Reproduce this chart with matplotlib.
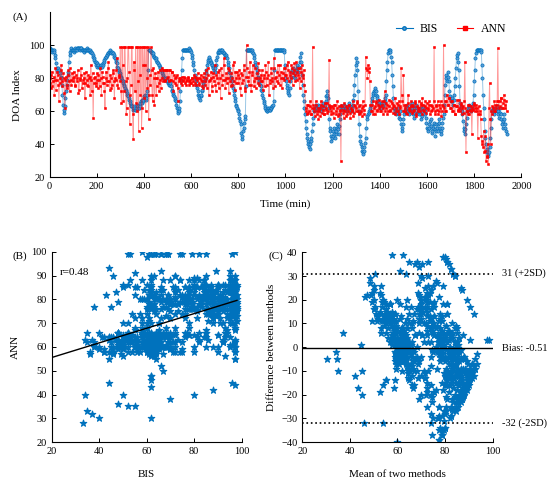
import matplotlib
matplotlib.use('Agg')
import matplotlib.pyplot as plt
import numpy as np

plt.rcParams['font.family'] = ['Liberation Serif', 'DejaVu Serif']
plt.rcParams['font.size'] = 8

# data: readings at 0, 5, 10 ... min
bis = [
    97, 97, 97, 97, 96, 92, 86, 84, 85, 83, 80, 70, 59, 63, 72, 79, 84, 94, 97, 97,
    97, 97, 97, 98, 98, 98, 98, 98, 97, 97, 97, 97, 97, 97, 97, 96, 95, 93, 91, 90,
    89, 88, 87, 87, 88, 88, 90, 92, 93, 94, 95, 96, 96, 96, 95, 93, 91, 89, 86, 84,
    82, 80, 78, 76, 74, 72, 70, 68, 66, 64, 63, 62, 62, 61, 62, 63, 62, 65, 67, 66,
    68, 70, 68, 72, 97, 97, 96, 95, 95, 93, 92, 90, 89, 88, 86, 84, 82, 80, 79, 80,
    78, 77, 76, 75, 72, 70, 68, 66, 62, 59, 62, 72, 85, 97, 97, 97, 97, 97, 97, 97,
    96, 92, 88, 82, 78, 74, 70, 68, 69, 72, 75, 78, 80, 85, 90, 92, 91, 89, 88, 86,
    84, 88, 93, 96, 96, 97, 96, 96, 95, 94, 93, 90, 86, 83, 80, 76, 72, 68, 64, 62,
    60, 56, 52, 43, 48, 53, 57, 97, 97, 97, 97, 97, 96, 94, 90, 87, 83, 80, 77, 75,
    72, 68, 65, 62, 60, 61, 62, 61, 62, 63, 66, 97, 97, 97, 97, 97, 97, 97, 97, 96,
    80, 76, 72, 70, 78, 84, 86, 83, 80, 85, 88, 84, 90, 95, 82, 70, 62, 54, 46, 42,
    38, 40, 44, 52, 60, 62, 63, 61, 64, 62, 60, 63, 65, 62, 66, 72, 68, 55, 48, 42,
    45, 50, 44, 48, 52, 46, 55, 62, 63, 61, 64, 62, 60, 63, 65, 62, 60, 64, 70, 82,
    92, 85, 60, 45, 40, 36, 34, 38, 44, 55, 58, 60, 62, 66, 70, 72, 74, 70, 68, 65,
    63, 62, 65, 64, 66, 70, 85, 95, 97, 96, 90, 75, 62, 60, 58, 62, 56, 60, 52, 48,
    55, 60, 62, 64, 60, 58, 62, 65, 60, 56, 62, 64, 60, 58, 62, 55, 60, 63, 60, 56,
    50, 48, 52, 55, 47, 50, 53, 45, 52, 48, 55, 50, 46, 53, 58, 70, 82, 78, 84, 72,
    66, 68, 64, 70, 80, 92, 95, 85, 65, 62, 58, 50, 46, 52, 60, 62, 64, 60, 62, 65,
    78, 92, 97, 97, 97, 97, 96, 80, 62, 48, 40, 35, 33, 38, 50, 60, 62, 58, 61, 63,
    60, 56, 62, 55, 50, 58, 52, 48,
]
ann = [
    80, 74, 84, 78, 70, 86, 79, 82, 66, 77, 88, 75, 80, 62, 81, 76, 85, 72, 79, 83,
    78, 81, 76, 80, 85, 73, 79, 82, 77, 80, 68, 84, 79, 75, 81, 88, 72, 56, 80, 77,
    83, 74, 79, 86, 70, 81, 77, 62, 84, 78, 90, 73, 80, 76, 85, 68, 79, 92, 74, 81,
    99, 65, 88, 72, 99, 58, 80, 99, 52, 76, 99, 43, 85, 99, 60, 78, 99, 70, 50, 99,
    68, 88, 99, 74, 55, 82, 99, 70, 86, 64, 80, 75, 84, 72, 79, 86, 78, 85, 78, 85,
    85, 78, 85, 79, 84, 72, 80, 76, 82, 66, 78, 80, 76, 79, 81, 77, 78, 80, 76, 79,
    77, 80, 78, 81, 76, 79, 80, 77, 82, 78, 74, 83, 76, 80, 86, 70, 79, 84, 75, 81,
    88, 72, 80, 77, 85, 68, 82, 79, 92, 74, 80, 86, 71, 78, 83, 76, 90, 73, 80, 84,
    77, 85, 70, 82, 79, 88, 74, 100, 81, 76, 90, 72, 84, 78, 86, 74, 80, 89, 76, 82,
    85, 73, 80, 88, 76, 82, 70, 79, 86, 78, 92, 75, 81, 84, 77, 88, 80, 74, 83, 79,
    86, 80, 90, 78, 84, 88, 76, 85, 82, 90, 79, 86, 74, 84, 88, 80, 76, 62, 58, 64,
    60, 66, 58, 99, 62, 57, 64, 60, 55, 62, 66, 59, 63, 58, 61, 65, 60, 91, 63, 58,
    62, 56, 64, 60, 66, 58, 61, 30, 63, 59, 65, 57, 62, 60, 64, 56, 61, 66, 59, 63,
    62, 66, 58, 64, 60, 57, 63, 61, 93, 85, 88, 86, 64, 60, 66, 62, 58, 65, 61, 67,
    63, 60, 66, 58, 72, 62, 64, 60, 67, 61, 65, 59, 63, 68, 60, 64, 58, 62, 86, 66,
    82, 60, 64, 58, 70, 62, 66, 59, 63, 61, 65, 57, 62, 66, 60, 64, 68, 61, 63, 59,
    65, 61, 66, 60, 63, 62, 99, 58, 64, 66, 60, 62, 57, 64, 100, 60, 66, 70, 64, 68,
    62, 66, 60, 64, 58, 63, 61, 67, 60, 64, 62, 59, 90, 35, 60, 64, 58, 63, 46, 61,
    65, 62, 60, 44, 63, 58, 45, 40, 48, 36, 30, 33, 28, 77, 40, 58, 62, 66, 60, 64,
    98, 62, 66, 68, 62, 70, 64, 66,
]
# readings in between, at 2.5, 7.5, 12.5 ... min
bis_mid = [
    98, 97, 96, 97, 94, 89, 85, 86, 84, 81, 76, 64, 61, 68, 76, 82, 90, 96, 98, 97,
    96, 98, 97, 97, 98, 97, 98, 97, 97, 96, 97, 98, 97, 97, 96, 96, 94, 92, 90, 88,
    87, 88, 86, 88, 87, 89, 91, 93, 94, 95, 96, 97, 95, 95, 94, 92, 90, 87, 85, 83,
    81, 79, 77, 75, 73, 71, 69, 67, 65, 63, 61, 63, 61, 62, 64, 62, 63, 66, 65, 67,
    69, 67, 70, 85, 97, 97, 96, 94, 93, 92, 91, 90, 88, 87, 85, 83, 81, 79, 80, 79,
    77, 76, 77, 73, 71, 69, 67, 64, 60, 60, 66, 79, 92, 97, 97, 97, 97, 97, 98, 97,
    94, 90, 85, 80, 76, 72, 69, 67, 70, 73, 77, 79, 83, 88, 91, 93, 90, 88, 87, 85,
    86, 91, 95, 97, 96, 97, 97, 95, 94, 94, 92, 88, 84, 81, 78, 74, 70, 66, 63, 61,
    58, 54, 47, 45, 50, 55, 75, 97, 97, 97, 97, 97, 95, 92, 88, 85, 81, 78, 76, 73,
    70, 66, 63, 61, 60, 62, 61, 62, 63, 64, 85, 97, 97, 97, 97, 97, 97, 97, 97, 88,
    78, 74, 71, 74, 81, 85, 84, 81, 83, 86, 86, 87, 93, 90, 76, 66, 58, 50, 44, 40,
    37, 42, 48, 56, 61, 64, 62, 63, 63, 61, 62, 64, 63, 64, 69, 70, 62, 50, 45, 44,
    48, 46, 46, 50, 49, 51, 58, 63, 62, 63, 63, 61, 62, 64, 63, 61, 62, 67, 76, 88,
    90, 72, 52, 42, 38, 35, 36, 41, 50, 57, 59, 61, 64, 68, 71, 73, 72, 69, 66, 64,
    62, 64, 63, 65, 68, 78, 90, 97, 97, 93, 82, 68, 61, 59, 60, 59, 58, 55, 50, 52,
    58, 61, 63, 62, 59, 60, 64, 62, 58, 59, 63, 62, 59, 60, 58, 57, 62, 61, 58, 53,
    49, 50, 54, 51, 48, 52, 49, 48, 50, 52, 53, 48, 50, 56, 64, 76, 80, 81, 78, 69,
    67, 66, 67, 75, 86, 94, 90, 75, 63, 60, 54, 48, 49, 56, 61, 63, 62, 61, 63, 70,
    85, 95, 97, 97, 97, 97, 88, 70, 55, 44, 37, 34, 35, 44, 55, 61, 60, 60, 62, 61,
    58, 59, 58, 52, 54, 55, 50, 46,
]
ann_mid = [
    77, 82, 75, 81, 79, 73, 84, 76, 80, 85, 78, 83, 71, 79, 74, 82, 78, 86, 76, 80,
    84, 75, 82, 78, 71, 80, 86, 74, 79, 83, 77, 76, 82, 80, 70, 79, 83, 77, 81, 75,
    79, 82, 75, 80, 84, 77, 72, 80, 76, 86, 78, 82, 74, 83, 78, 80, 85, 76, 82, 78,
    72, 99, 66, 99, 78, 62, 99, 84, 70, 99, 58, 90, 72, 65, 99, 48, 82, 99, 62, 88,
    99, 60, 80, 99, 70, 76, 85, 66, 80, 83, 70, 80, 77, 85, 74, 80, 85, 79, 85, 80,
    81, 85, 79, 84, 78, 82, 77, 81, 74, 80, 79, 77, 81, 78, 80, 76, 79, 81, 78, 77,
    80, 76, 82, 77, 80, 83, 76, 80, 79, 75, 81, 78, 85, 74, 82, 78, 80, 72, 83, 78,
    76, 82, 84, 74, 80, 86, 76, 88, 79, 83, 77, 80, 85, 75, 80, 88, 78, 84, 77, 82,
    80, 74, 83, 77, 85, 72, 81, 86, 78, 84, 76, 82, 88, 75, 80, 83, 77, 85, 80, 78,
    78, 82, 75, 84, 80, 90, 77, 83, 80, 74, 86, 80, 78, 88, 82, 76, 84, 80, 86, 82,
    82, 88, 85, 82, 80, 86, 83, 89, 78, 84, 82, 80, 86, 78, 82, 85, 72, 60, 64, 59,
    63, 58, 62, 64, 60, 66, 58, 62, 60, 57, 64, 61, 58, 65, 62, 59, 64, 62, 60, 63,
    59, 64, 58, 62, 57, 63, 60, 64, 61, 56, 60, 63, 58, 64, 59, 62, 60, 57, 64, 60,
    65, 60, 63, 59, 62, 66, 58, 64, 86, 80, 84, 78, 60, 64, 58, 63, 66, 60, 64, 62,
    60, 64, 62, 66, 60, 65, 58, 63, 60, 66, 62, 64, 58, 62, 65, 60, 66, 63, 70, 60,
    64, 62, 59, 65, 61, 60, 63, 64, 60, 66, 58, 63, 60, 62, 65, 58, 64, 60, 66, 62,
    62, 64, 58, 64, 61, 66, 60, 63, 61, 58, 64, 66, 60, 63, 62, 66, 60, 64, 68, 62,
    66, 60, 64, 58, 63, 67, 60, 62, 65, 58, 63, 66, 62, 60, 58, 64, 61, 60, 62, 64,
    60, 64, 62, 58, 60, 55, 42, 38, 35, 45, 32, 40, 62, 55, 60, 63, 60, 64, 62, 66,
    66, 63, 68, 62, 65, 67, 62, 60,
]

# regression line and Bland-Altman values as printed on the chart
r_value = 0.48
fit_slope = 0.308
fit_intercept = 49.4
bias = -0.51
upper_loa = 31
lower_loa = -32

# merge both reading sets in time order
t_all = np.concatenate([np.arange(len(bis)) * 5.0, np.arange(len(bis_mid)) * 5.0 + 2.5])
order = np.argsort(t_all)
time = t_all[order]
bis_all = np.concatenate([bis, bis_mid]).astype(float)[order]
ann_all = np.concatenate([ann, ann_mid]).astype(float)[order]

blue = '#0072BD'
red = '#FF0000'

fig = plt.figure(figsize=(5.5, 4.88), dpi=100)

# (A) time series
axA = fig.add_axes([0.09, 0.637, 0.858, 0.338])
axA.plot(time, bis_all, '-', color=blue, lw=0.7, alpha=0.4)
axA.plot(time, bis_all, 'o', color=blue, ms=2.3, mew=0.5, mfc='#5b9bd5')
axA.plot(time, ann_all, '-', color=red, lw=0.7, alpha=0.4)
axA.plot(time, ann_all, 's', color=red, ms=1.8, mew=0.4)
axA.set_xlim(0, 2000)
axA.set_ylim(20, 120)
axA.set_yticks([20, 40, 60, 80, 100])
axA.set_xticks(np.arange(0, 2001, 200))
axA.set_xlabel('Time (min)', labelpad=6)
axA.set_ylabel('DOA Index', labelpad=5)
# legend handles: line + marker
hB, = axA.plot([], [], '-o', color=blue, ms=2.5, lw=0.8, mfc='#5b9bd5')
hA, = axA.plot([], [], '-s', color=red, ms=2.5, lw=0.8)
axA.legend([hB, hA], ['BIS', 'ANN'], ncol=2, frameon=False, loc='upper right',
           bbox_to_anchor=(0.99, 1.0), handlelength=1.4, handletextpad=0.6,
           columnspacing=1.6, fontsize=8.5)

# (B) scatter BIS vs ANN
axB = fig.add_axes([0.094, 0.094, 0.3455, 0.39])
axB.scatter(bis_all, ann_all, marker='*', s=24, color=blue, edgecolors=blue, linewidths=0.8)
xx = np.array([20, 98])
axB.plot(xx, fit_intercept + fit_slope * xx, color='black', lw=1.0)
axB.text(23.5, 91.5, 'r=%.2f' % r_value, va='center', ha='left', fontsize=8)
axB.set_xlim(20, 100)
axB.set_ylim(20, 100)
axB.set_xticks(np.arange(20, 101, 20))
axB.set_yticks(np.arange(20, 101, 10))
axB.set_xlabel('BIS', labelpad=10)
axB.set_ylabel('ANN', labelpad=8)

# (C) Bland-Altman
mean_val = (bis_all + ann_all) / 2
diff_val = ann_all - bis_all
axC = fig.add_axes([0.5496, 0.094, 0.3462, 0.389])
axC.scatter(mean_val, diff_val, marker='*', s=24, color=blue, edgecolors=blue, linewidths=0.8)
axC.axhline(bias, color='black', lw=1.0)
axC.axhline(upper_loa, color='black', lw=1.2, ls=':')
axC.axhline(lower_loa, color='black', lw=1.2, ls=':')
ytr = axC.get_yaxis_transform()
axC.text(1.05, upper_loa, '%d (+2SD)' % upper_loa, transform=ytr,
         va='center', ha='left', fontsize=7.5)
axC.text(1.05, bias, 'Bias: %.2f' % bias, transform=ytr,
         va='center', ha='left', fontsize=7.5)
axC.text(1.05, lower_loa, '%d (-2SD)' % lower_loa, transform=ytr,
         va='center', ha='left', fontsize=7.5)
axC.set_xlim(20, 100)
axC.set_ylim(-40, 40)
axC.set_xticks(np.arange(20, 101, 20))
axC.set_yticks(np.arange(-40, 41, 10))
axC.set_xlabel('Mean of two methods', labelpad=10)
axC.set_ylabel('Difference between methods', labelpad=4)

for ax in (axA, axB, axC):
    ax.spines['top'].set_visible(False)
    ax.spines['right'].set_visible(False)
    ax.spines['left'].set_linewidth(0.8)
    ax.spines['bottom'].set_linewidth(0.8)
    ax.tick_params(direction='in', length=3, width=0.7, labelsize=7.5)

fig.text(0.022, 0.965, '(A)', fontsize=8, va='center')
fig.text(0.022, 0.475, '(B)', fontsize=8, va='center')
fig.text(0.489, 0.475, '(C)', fontsize=8, va='center')

fig.savefig('out.png', dpi=100)
